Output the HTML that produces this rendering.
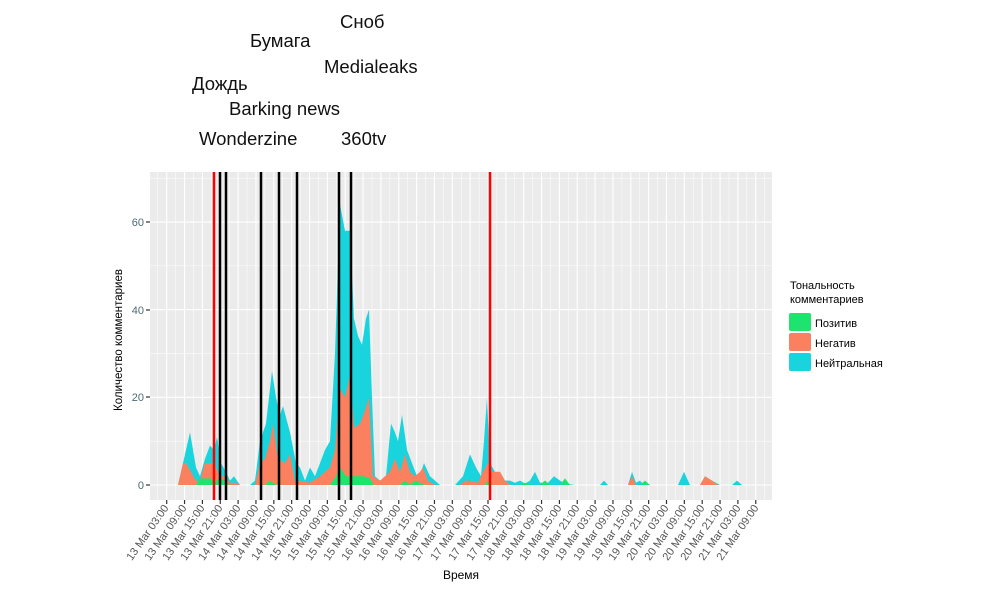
<!DOCTYPE html>
<html><head><meta charset="utf-8"><style>
body{margin:0;background:#fff;width:1000px;height:600px;overflow:hidden}
svg{display:block;font-family:"Liberation Sans","DejaVu Sans",sans-serif}
</style></head><body>
<svg id="s" width="1000" height="600" viewBox="0 0 1000 600">
<rect x="150" y="172" width="622" height="328" fill="#ebebeb"/>
<g id="grid"></g>
<g id="areas"></g>
<g stroke-width="2.5">
<line x1="220" y1="172" x2="220" y2="500" stroke="#000"/>
<line x1="226" y1="172" x2="226" y2="500" stroke="#000"/>
<line x1="261" y1="172" x2="261" y2="500" stroke="#000"/>
<line x1="279" y1="172" x2="279" y2="500" stroke="#000"/>
<line x1="297" y1="172" x2="297" y2="500" stroke="#000"/>
<line x1="339" y1="172" x2="339" y2="500" stroke="#000"/>
<line x1="351" y1="172" x2="351" y2="500" stroke="#000"/>
<line x1="214" y1="172" x2="214" y2="500" stroke="#f00"/>
<line x1="490" y1="172" x2="490" y2="500" stroke="#f00"/>
</g>
<g font-size="11" fill="#4d6b73" text-anchor="end">
<text x="144" y="489">0</text><text x="144" y="401">20</text><text x="144" y="314">40</text><text x="144" y="226">60</text>
</g>
<g stroke="#333" stroke-width="1.2">
<line x1="146" y1="485" x2="150" y2="485"/><line x1="146" y1="397" x2="150" y2="397"/><line x1="146" y1="310" x2="150" y2="310"/><line x1="146" y1="222" x2="150" y2="222"/>
</g>
<g id="ticks"></g>
<g font-size="11" fill="#555" text-anchor="end">
<text transform="translate(169,508) rotate(-55)">13 Mar 03:00</text>
<text transform="translate(187,508) rotate(-55)">13 Mar 09:00</text>
<text transform="translate(205,508) rotate(-55)">13 Mar 15:00</text>
<text transform="translate(223,508) rotate(-55)">13 Mar 21:00</text>
<text transform="translate(241,508) rotate(-55)">14 Mar 03:00</text>
<text transform="translate(259,508) rotate(-55)">14 Mar 09:00</text>
<text transform="translate(276,508) rotate(-55)">14 Mar 15:00</text>
<text transform="translate(294,508) rotate(-55)">14 Mar 21:00</text>
<text transform="translate(312,508) rotate(-55)">15 Mar 03:00</text>
<text transform="translate(330,508) rotate(-55)">15 Mar 09:00</text>
<text transform="translate(348,508) rotate(-55)">15 Mar 15:00</text>
<text transform="translate(366,508) rotate(-55)">15 Mar 21:00</text>
<text transform="translate(384,508) rotate(-55)">16 Mar 03:00</text>
<text transform="translate(401,508) rotate(-55)">16 Mar 09:00</text>
<text transform="translate(419,508) rotate(-55)">16 Mar 15:00</text>
<text transform="translate(437,508) rotate(-55)">16 Mar 21:00</text>
<text transform="translate(455,508) rotate(-55)">17 Mar 03:00</text>
<text transform="translate(473,508) rotate(-55)">17 Mar 09:00</text>
<text transform="translate(491,508) rotate(-55)">17 Mar 15:00</text>
<text transform="translate(509,508) rotate(-55)">17 Mar 21:00</text>
<text transform="translate(526,508) rotate(-55)">18 Mar 03:00</text>
<text transform="translate(544,508) rotate(-55)">18 Mar 09:00</text>
<text transform="translate(562,508) rotate(-55)">18 Mar 15:00</text>
<text transform="translate(580,508) rotate(-55)">18 Mar 21:00</text>
<text transform="translate(598,508) rotate(-55)">19 Mar 03:00</text>
<text transform="translate(616,508) rotate(-55)">19 Mar 09:00</text>
<text transform="translate(634,508) rotate(-55)">19 Mar 15:00</text>
<text transform="translate(651,508) rotate(-55)">19 Mar 21:00</text>
<text transform="translate(669,508) rotate(-55)">20 Mar 03:00</text>
<text transform="translate(687,508) rotate(-55)">20 Mar 09:00</text>
<text transform="translate(705,508) rotate(-55)">20 Mar 15:00</text>
<text transform="translate(723,508) rotate(-55)">20 Mar 21:00</text>
<text transform="translate(741,508) rotate(-55)">21 Mar 03:00</text>
<text transform="translate(759,508) rotate(-55)">21 Mar 09:00</text>
</g>
<text x="461" y="579" font-size="12" text-anchor="middle">Время</text>
<text transform="translate(122,340) rotate(-90)" font-size="11.5" text-anchor="middle">Количество комментариев</text>
<g font-size="11">
<text x="790" y="289">Тональность</text>
<text x="790" y="303">комментариев</text>
<rect x="789" y="313" width="22" height="18" fill="#1ee36e" rx="2"/>
<rect x="789" y="333" width="22" height="18" fill="#fa8060" rx="2"/>
<rect x="789" y="353" width="22" height="18" fill="#19d4dc" rx="2"/>
<text x="815" y="327">Позитив</text>
<text x="815" y="347">Негатив</text>
<text x="815" y="367">Нейтральная</text>
</g>
<g font-size="18.5" fill="#111">
<text x="340" y="28">Сноб</text>
<text x="250" y="47">Бумага</text>
<text x="324" y="73">Medialeaks</text>
<text x="192" y="90">Дождь</text>
<text x="229" y="115">Barking news</text>
<text x="199" y="145">Wonderzine</text>
<text x="341" y="145">360tv</text>
</g>
</svg>
<script>
const NS="http://www.w3.org/2000/svg";
function el(p,t,a){const e=document.createElementNS(NS,t);for(const k in a)e.setAttribute(k,a[k]);p.appendChild(e);return e;}
const g=document.getElementById('grid');
for(let i=-1;i<35;i++){const x=166.7+17.85*i;
 if(x>150&&x<772)el(g,'line',{x1:x,x2:x,y1:172,y2:500,stroke:'#fff','stroke-width':1.1});
 const m=x+8.93;if(m>150&&m<772)el(g,'line',{x1:m,x2:m,y1:172,y2:500,stroke:'#fff','stroke-width':0.5});}
for(const v of [0,20,40,60]){const y=485-v*4.383;el(g,'line',{x1:150,x2:772,y1:y,y2:y,stroke:'#fff','stroke-width':1.1});}
for(const v of [10,30,50,70]){const y=485-v*4.383;el(g,'line',{x1:150,x2:772,y1:y,y2:y,stroke:'#fff','stroke-width':0.5});}
const tk=document.getElementById('ticks');
for(let i=0;i<34;i++){const x=166.7+17.85*i;el(tk,'line',{x1:x,x2:x,y1:500,y2:504,stroke:'#333','stroke-width':1.2});}
const Y=v=>485-v*4.383;
function area(pts,col){let d='M'+pts[0][0]+','+Y(0);for(const p of pts)d+=' L'+p[0]+','+Y(p[1]);d+=' L'+pts[pts.length-1][0]+','+Y(0)+'Z';
 el(document.getElementById('areas'),'path',{d:d,fill:col});}
const cy=[[178,0],[183,5],[190,12],[196,4],[200,2],[205,6],[210,9],[214,8],[217,11],[221,5],[226,3],[230,1],[234,2],[237,1],[240,0],[250,0],[255,1],[260,10],[266,14],[272,26],[276,20],[280,16],[283,18],[290,12],[296,5],[300,4],[305,1],[310,4],[315,2],[320,5],[325,8],[330,10],[335,30],[340,64],[345,58],[350,58],[354,38],[358,34],[362,32],[366,38],[369,40],[372,20],[375,2],[380,1],[386,2],[391,14],[395,12],[398,10],[402,16],[407,8],[412,5],[417,2],[421,3],[424,5],[430,2],[440,0],[455,0],[463,2],[470,7],[476,4],[481,2],[484,10],[487,20],[490,5],[495,3],[500,3],[505,1],[510,1],[515,0.5],[520,1],[525,0.3],[530,1],[535,3],[540,0.5],[548,0.5],[554,2],[560,1],[565,0.3],[575,0],[600,0],[604,1],[608,0],[628,0],[632,3],[636,0.5],[640,1],[644,0],[678,0],[684,3],[690,0],[700,0],[705,2],[712,1],[720,0],[732,0],[737,1],[742,0],[770,0]];
const or=[[178,0],[183,5],[186,5],[196,1],[200,1],[205,5],[210,5],[214,5],[220,2],[226,2],[230,0.5],[236,0.5],[240,0],[255,0],[260,5],[265,6],[270,10],[273,14],[278,6],[285,5],[290,7],[295,1],[300,1],[310,0.5],[320,2],[330,4],[335,8],[340,22],[345,20],[350,25],[354,13],[360,14],[365,17],[369,20],[373,2],[380,1],[390,3],[395,6],[400,3],[405,7],[410,3],[415,2],[420,3],[423,4],[428,1],[435,0],[460,0],[465,1],[470,1],[478,0.5],[483,3],[488,5],[492,3],[500,3],[505,1],[510,0],[540,0],[545,1],[550,0],[628,0],[632,2],[636,0],[700,0],[705,2],[712,1],[718,0],[770,0]];
const gr=[[196,0],[200,1.5],[210,1.5],[216,1],[222,1.5],[226,0.5],[230,0],[265,0],[270,1],[276,0],[330,0],[336,2],[340,4],[346,2],[352,2],[358,2],[364,2],[370,1.5],[374,0],[400,0],[405,1],[410,0],[415,1],[420,0.5],[425,0],[485,0],[488,1],[492,0],[520,0],[525,0.5],[530,0],[540,0],[545,1],[550,0],[560,0],[565,1.5],[570,0],[640,0],[645,1],[650,0],[770,0]];
area(cy,'#19d4dc');area(or,'#fa8060');area(gr,'#1ee36e');
</script>
</body></html>
